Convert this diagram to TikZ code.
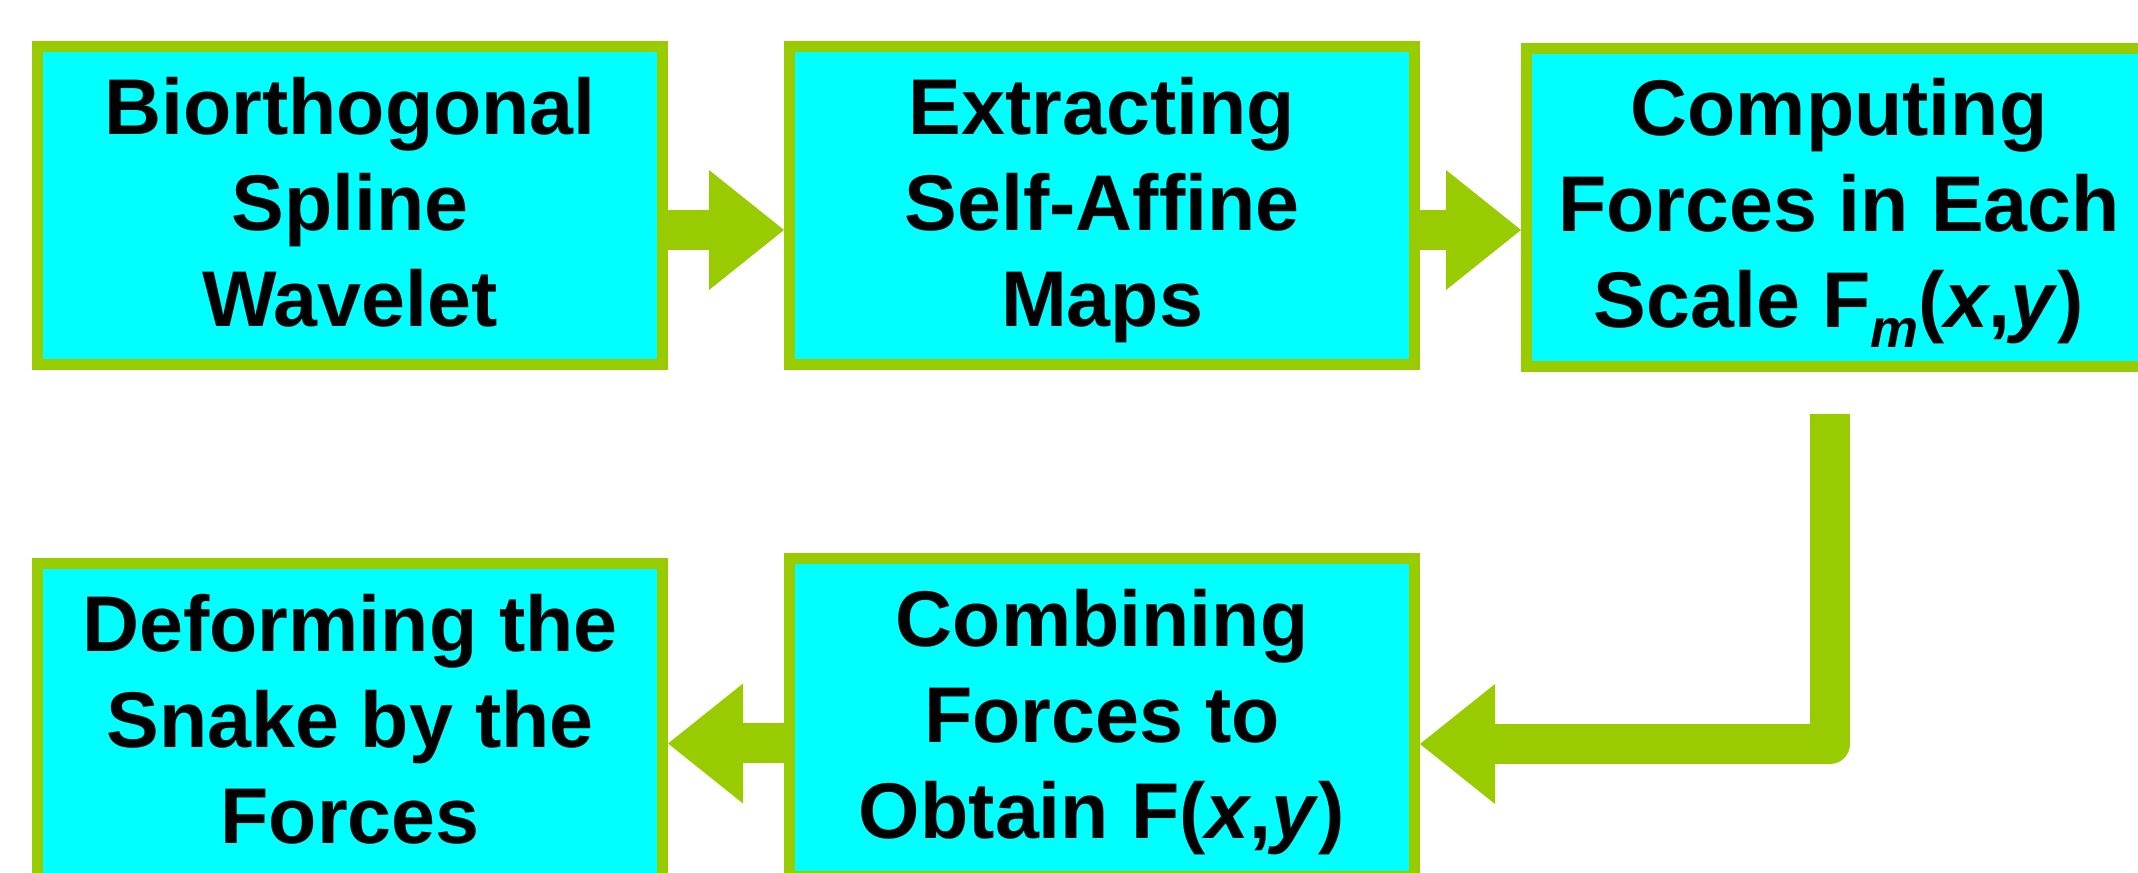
\documentclass[tikz,border=0pt]{standalone}
\usepackage{fontspec}
\setmainfont{Liberation Sans}[Ligatures=NoCommon]
\usepackage{tikz}
\usetikzlibrary{arrows.meta}
\definecolor{boxcyan}{HTML}{00FFFF}
\definecolor{flowgreen}{HTML}{99CC00}
% fixed line height and depth, so every box sets its three lines alike
\newcommand{\boxstrut}{\rule[-4.5pt]{0pt}{21.5pt}}

\begin{document}
\begin{tikzpicture}[x=0.25pt,y=-0.25pt,
  stage/.style={draw=flowgreen,fill=boxcyan,line width=2.75pt,
    minimum width=156.25pt,minimum height=79.5pt,inner sep=0pt,align=center,
    font=\bfseries\fontsize{19.75}{23.9}\selectfont,
    execute at end node=\boxstrut},
  flow/.style={draw=flowgreen,line width=10pt,
    -{Triangle[length=18.75pt,width=30pt,line width=0pt]}}]
  \useasboundingbox (0,0) rectangle (2138,873);
  % top row
  \node[stage] (spline) at (350,205.5) {\boxstrut Biorthogonal\\Spline\\Wavelet};
  \node[stage] (affine) at (1102,205.5) {\boxstrut Extracting\\Self-Affine\\Maps};
  \node[stage] (scales) at (1839,207.5)
    {\boxstrut Computing\\Forces in Each\\Scale F\raisebox{-5pt}{\fontsize{13.5}{13.5}\selectfont\textit{m}}(\textit{x},\textit{y})};
  % bottom row
  \node[stage] (deform) at (350,722.5) {\boxstrut Deforming the\\Snake by the\\Forces};
  \node[stage] (combine) at (1102,717.5) {\boxstrut Combining\\Forces to\\Obtain F(\textit{x},\textit{y})};
  % arrows
  \draw[flow] ([shift={(0,24.5)}]spline.east) -- ([shift={(0,24.5)}]spline.east -| affine.west);
  \draw[flow] ([shift={(0,24.5)}]affine.east) -- ([shift={(0,24.5)}]affine.east -| scales.west);
  \draw[flow,line join=round] ([shift={(-9,42)}]scales.south) |- ([shift={(0,26.5)}]combine.east);
  \draw[flow] ([shift={(0,26)}]combine.west) -- ([shift={(0,26)}]combine.west -| deform.east);
\end{tikzpicture}
\end{document}
